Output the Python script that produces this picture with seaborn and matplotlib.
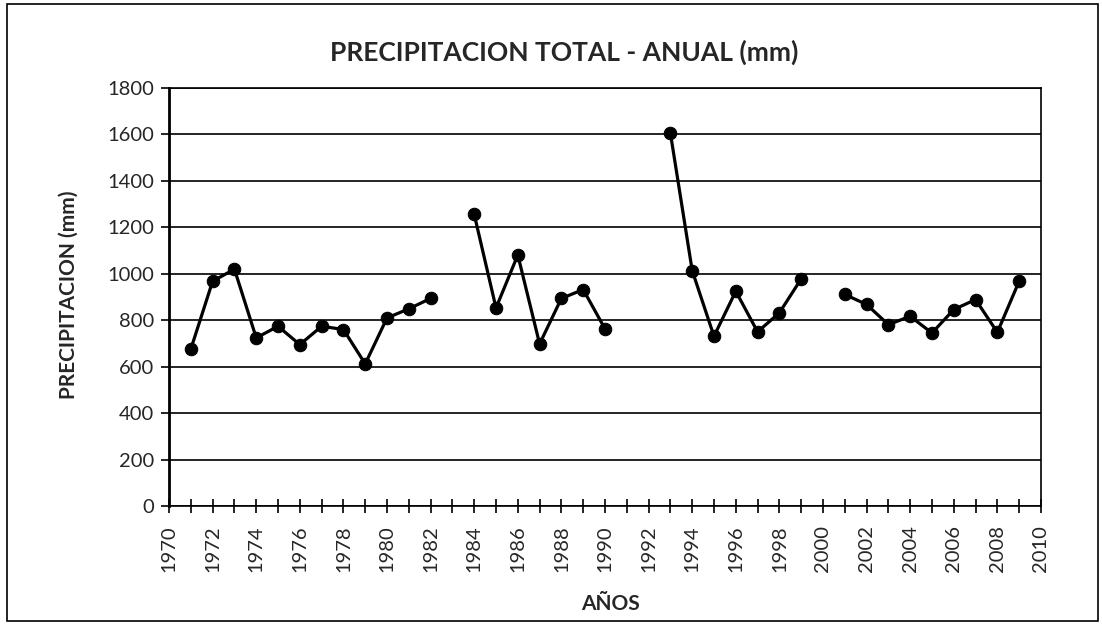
import numpy as np
import pandas as pd
import matplotlib.pyplot as plt
import seaborn as sns
from matplotlib.patches import Rectangle
from matplotlib.ticker import MultipleLocator

# Datos de precipitacion anual (mm); None = sin registro
anios = list(range(1971, 2010))
precipitacion = [
    676, 968, 1020, 724, 774, 695, 774, 760, 612, 810, 849, 894,   # 1971-1982
    None,                                                          # 1983
    1256, 853, 1081, 698, 894, 932, 763,                           # 1984-1990
    None, None,                                                    # 1991-1992
    1606, 1014, 731, 925, 750, 832, 978,                           # 1993-1999
    None,                                                          # 2000
    911, 868, 781, 817, 745, 846, 889, 748, 968,                   # 2001-2009
]

TITULO = "PRECIPITACION TOTAL - ANUAL (mm)"
ETIQ_X = "AÑOS"
ETIQ_Y = "PRECIPITACION (mm)"

df = pd.DataFrame({"anio": anios, "mm": precipitacion})
# cada tramo continuo se dibuja por separado para dejar los huecos
df["tramo"] = df["mm"].isna().cumsum()
df = df.dropna()

sns.set_theme(style="white")
plt.rcParams["font.family"] = ["Lato", "DejaVu Sans"]

fig = plt.figure(figsize=(11.02, 6.27), dpi=100)
ax = fig.add_axes([0.1534, 0.193, 0.7912, 0.6666])

sns.lineplot(data=df, x="anio", y="mm", units="tramo", estimator=None,
             color="black", linewidth=2.3, marker="o", markersize=9,
             markeredgecolor="black", ax=ax)

ax.set_xlim(1970, 2010)
ax.set_ylim(0, 1800)
ax.xaxis.set_major_locator(MultipleLocator(2))
ax.xaxis.set_minor_locator(MultipleLocator(1))
ax.yaxis.set_major_locator(MultipleLocator(200))
ax.grid(axis="y", color="black", linewidth=1.2)
ax.set_axisbelow(True)

for s in ax.spines.values():
    s.set_color("black")
    s.set_linewidth(1.2)
ax.spines["left"].set_linewidth(2)

ax.tick_params(axis="x", which="both", direction="inout", length=10, width=1.2,
               color="black", bottom=True)
ax.tick_params(axis="x", which="major", labelsize=14.5, labelrotation=90, pad=9)
ax.tick_params(axis="y", which="major", direction="out", length=6, width=1.2,
               color="black", labelsize=14.5, left=True, pad=5)

ax.set_xlabel(ETIQ_X, fontsize=15, fontweight="bold")
ax.set_ylabel(ETIQ_Y, fontsize=15, fontweight="bold")
ax.xaxis.set_label_coords(0.506, -0.21)
ax.yaxis.set_label_coords(-0.104, 0.505)
fig.text(0.512, 0.917, TITULO, ha="center", va="center",
         fontsize=19, fontweight="bold")

fig.patches.append(Rectangle((0.006, 0.01), 0.99, 0.984, transform=fig.transFigure,
                             fill=False, edgecolor="black", linewidth=1.2))

fig.savefig("out.png", dpi=100)
